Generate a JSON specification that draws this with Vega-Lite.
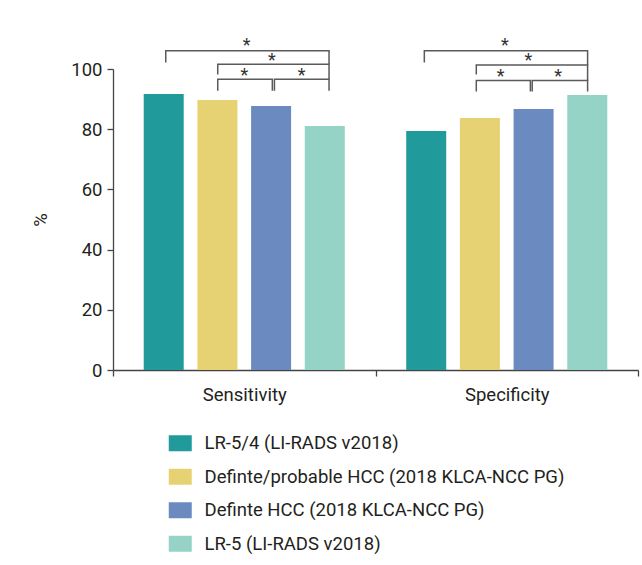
{
  "$schema": "https://vega.github.io/schema/vega-lite/v6.json",
  "width": 525,
  "height": 301,
  "autosize": {"type": "none"},
  "padding": {"left": 113, "top": 69, "right": 4, "bottom": 195},
  "background": "white",
  "config": {"view": {"stroke": null}, "font": "Roboto"},
  "datasets": {
    "bars": [
      {"measure": "Sensitivity", "method": "LR-5/4 (LI-RADS v2018)", "value": 91.7},
      {"measure": "Sensitivity", "method": "Definte/probable HCC (2018 KLCA-NCC PG)", "value": 89.7},
      {"measure": "Sensitivity", "method": "Definte HCC (2018 KLCA-NCC PG)", "value": 87.7},
      {"measure": "Sensitivity", "method": "LR-5 (LI-RADS v2018)", "value": 81.1},
      {"measure": "Specificity", "method": "LR-5/4 (LI-RADS v2018)", "value": 79.4},
      {"measure": "Specificity", "method": "Definte/probable HCC (2018 KLCA-NCC PG)", "value": 83.7},
      {"measure": "Specificity", "method": "Definte HCC (2018 KLCA-NCC PG)", "value": 86.7},
      {"measure": "Specificity", "method": "LR-5 (LI-RADS v2018)", "value": 91.4}
    ],
    "brackets": [
      {"bracket": "S1", "pt": 1, "pos": 0.201, "value": 102.2},
      {"bracket": "S1", "pt": 2, "pos": 0.201, "value": 106.1},
      {"bracket": "S1", "pt": 3, "pos": 0.823, "value": 106.1},
      {"bracket": "S1", "pt": 4, "pos": 0.823, "value": 101.6},
      {"bracket": "S2", "pt": 1, "pos": 0.399, "value": 98.2},
      {"bracket": "S2", "pt": 2, "pos": 0.399, "value": 101.6},
      {"bracket": "S2", "pt": 3, "pos": 0.823, "value": 101.6},
      {"bracket": "S2", "pt": 4, "pos": 0.823, "value": 96.6},
      {"bracket": "S3", "pt": 1, "pos": 0.399, "value": 92.8},
      {"bracket": "S3", "pt": 2, "pos": 0.399, "value": 96.6},
      {"bracket": "S3", "pt": 3, "pos": 0.607, "value": 96.6},
      {"bracket": "S3", "pt": 4, "pos": 0.607, "value": 92.8},
      {"bracket": "S4", "pt": 1, "pos": 0.615, "value": 92.8},
      {"bracket": "S4", "pt": 2, "pos": 0.615, "value": 96.6},
      {"bracket": "S4", "pt": 3, "pos": 0.823, "value": 96.6},
      {"bracket": "S4", "pt": 4, "pos": 0.823, "value": 92.8},
      {"bracket": "P1", "pt": 1, "pos": 1.186, "value": 102.2},
      {"bracket": "P1", "pt": 2, "pos": 1.186, "value": 106.1},
      {"bracket": "P1", "pt": 3, "pos": 1.808, "value": 106.1},
      {"bracket": "P1", "pt": 4, "pos": 1.808, "value": 101.3},
      {"bracket": "P2", "pt": 1, "pos": 1.384, "value": 98.2},
      {"bracket": "P2", "pt": 2, "pos": 1.384, "value": 101.3},
      {"bracket": "P2", "pt": 3, "pos": 1.808, "value": 101.3},
      {"bracket": "P2", "pt": 4, "pos": 1.808, "value": 96.2},
      {"bracket": "P3", "pt": 1, "pos": 1.384, "value": 92.5},
      {"bracket": "P3", "pt": 2, "pos": 1.384, "value": 96.2},
      {"bracket": "P3", "pt": 3, "pos": 1.590, "value": 96.2},
      {"bracket": "P3", "pt": 4, "pos": 1.590, "value": 92.5},
      {"bracket": "P4", "pt": 1, "pos": 1.597, "value": 92.5},
      {"bracket": "P4", "pt": 2, "pos": 1.597, "value": 96.2},
      {"bracket": "P4", "pt": 3, "pos": 1.808, "value": 96.2},
      {"bracket": "P4", "pt": 4, "pos": 1.808, "value": 92.5}
    ],
    "stars": [
      {"pos": 0.509, "value": 109.1},
      {"pos": 0.605, "value": 104.0},
      {"pos": 0.500, "value": 98.9},
      {"pos": 0.719, "value": 98.9},
      {"pos": 1.493, "value": 109.1},
      {"pos": 1.582, "value": 103.9},
      {"pos": 1.477, "value": 98.6},
      {"pos": 1.696, "value": 98.6}
    ]
  },
  "layer": [
    {
      "data": {"name": "bars"},
      "mark": {"type": "bar"},
      "encoding": {
        "x": {
          "field": "measure", "type": "nominal", "sort": ["Sensitivity", "Specificity"],
          "scale": {"paddingInner": 0, "paddingOuter": 0},
          "axis": {"title": null, "labelAngle": 0, "tickBand": "extent", "tickSize": 6, "labelPadding": 9, "labelFontSize": 18.5, "labelColor": "#231f20", "domainColor": "#444444", "tickColor": "#444444", "domainWidth": 1.3, "tickWidth": 1.3}
        },
        "xOffset": {
          "field": "method", "type": "nominal",
          "sort": ["LR-5/4 (LI-RADS v2018)", "Definte/probable HCC (2018 KLCA-NCC PG)", "Definte HCC (2018 KLCA-NCC PG)", "LR-5 (LI-RADS v2018)"],
          "scale": {"paddingInner": 0.255, "paddingOuter": 0.572}
        },
        "y": {
          "field": "value", "type": "quantitative", "title": "%",
          "scale": {"domain": [0, 100]},
          "axis": {"values": [0, 20, 40, 60, 80, 100], "grid": false, "tickSize": 6, "labelPadding": 5, "labelFontSize": 18.5, "labelColor": "#231f20", "domainColor": "#444444", "tickColor": "#444444", "domainWidth": 1.3, "tickWidth": 1.3, "titleFontSize": 18.5, "titleFontWeight": "normal", "titleColor": "#231f20", "titlePadding": 20}
        },
        "color": {
          "field": "method", "type": "nominal",
          "scale": {
            "domain": ["LR-5/4 (LI-RADS v2018)", "Definte/probable HCC (2018 KLCA-NCC PG)", "Definte HCC (2018 KLCA-NCC PG)", "LR-5 (LI-RADS v2018)"],
            "range": ["#219a9c", "#e7d273", "#6b8bc0", "#94d3c5"]
          },
          "legend": {"orient": "none", "legendX": 58, "legendY": 365, "direction": "vertical", "title": null, "labelFontSize": 18.5, "labelColor": "#231f20", "labelLimit": 0, "symbolType": "M-1.4375,-1H1.4375V1H-1.4375Z", "symbolSize": 256, "symbolStrokeWidth": 0, "symbolOpacity": 1, "labelOffset": 15, "rowPadding": 14.5, "padding": 0}
        }
      }
    },
    {
      "data": {"name": "brackets"},
      "mark": {"type": "line", "color": "#5a5a5a", "strokeWidth": 1.5, "clip": false, "strokeJoin": "miter", "strokeCap": "butt"},
      "encoding": {
        "x": {"field": "pos", "type": "quantitative", "scale": {"domain": [0, 2], "nice": false, "zero": false}, "axis": null},
        "y": {"field": "value", "type": "quantitative", "title": "%", "scale": {"domain": [0, 100]}},
        "detail": {"field": "bracket"},
        "order": {"field": "pt"}
      }
    },
    {
      "data": {"name": "stars"},
      "mark": {"type": "text", "text": "*", "fontSize": 18, "color": "#333333", "baseline": "middle", "align": "center", "dy": 4, "clip": false},
      "encoding": {
        "x": {"field": "pos", "type": "quantitative", "scale": {"domain": [0, 2], "nice": false, "zero": false}, "axis": null},
        "y": {"field": "value", "type": "quantitative", "title": "%", "scale": {"domain": [0, 100]}}
      }
    }
  ],
  "resolve": {"scale": {"x": "independent"}}
}
